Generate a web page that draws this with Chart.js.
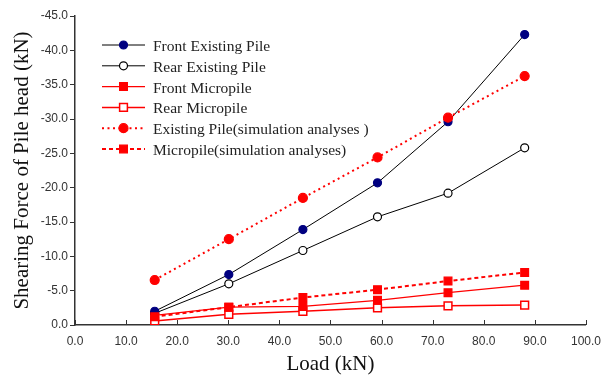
<!DOCTYPE html>
<html>
<head>
<meta charset="utf-8">
<script src="https://cdn.jsdelivr.net/npm/chart.js@4"></script>
<style>
  html, body { margin: 0; padding: 0; background: #fff; }
  #wrap { width: 610px; height: 376px; position: relative; }
</style>
</head>
<body>
<div id="wrap"><canvas id="c"></canvas></div>
<script>
// Load steps (kN) and pile head shearing force (kN)
const loads = [15.6, 30.1, 44.6, 59.2, 73.0, 88.0];

const frontExisting = [-2.0, -7.35, -13.9, -20.7, -29.6, -42.3];
const rearExisting  = [-1.7, -6.0, -10.85, -15.75, -19.2, -25.8];
const frontMicro    = [-1.4, -2.6, -2.7, -3.6, -4.7, -5.8];
const rearMicro     = [-0.6, -1.55, -2.0, -2.5, -2.8, -2.9];
const existingSim   = [-6.55, -12.5, -18.5, -24.4, -30.2, -36.25];
const microSim      = [-1.2, -2.6, -4.0, -5.15, -6.4, -7.65];

const labels = [
  "Front Existing Pile",
  "Rear Existing Pile",
  "Front Micropile",
  "Rear Micropile",
  "Existing Pile(simulation analyses )",
  "Micropile(simulation analyses)",
];

const RED = "#FF0000";
const NAVY = "#000080";

const pts = (ys) => loads.map((x, i) => ({ x, y: ys[i] }));

function ds(label, data, o) {
  return Object.assign({
    label, data: pts(data),
    borderWidth: 1, pointRadius: 4, pointBorderWidth: 1.2,
    pointStyle: "circle", borderDash: [], tension: 0,
  }, o);
}

const datasets = [
  ds(labels[0], frontExisting, { borderColor: "#000", pointBackgroundColor: NAVY, pointBorderColor: NAVY, order: 2 }),
  ds(labels[1], rearExisting, { borderColor: "#000", pointBackgroundColor: "#fff", pointBorderColor: "#000", order: 2 }),
  ds(labels[2], frontMicro, { borderColor: RED, borderWidth: 1.3, pointStyle: "rect", pointRadius: 5.5, pointBackgroundColor: RED, pointBorderColor: RED, order: 2 }),
  ds(labels[3], rearMicro, { borderColor: RED, borderWidth: 1.5, pointStyle: "rect", pointRadius: 5.5, pointBackgroundColor: "#fff", pointBorderColor: RED, pointBorderWidth: 1.5, order: 2 }),
  ds(labels[4], existingSim, { borderColor: RED, borderWidth: 2, borderDash: [2, 3.5], pointRadius: 4.5, pointBackgroundColor: RED, pointBorderColor: RED, order: 0 }),
  ds(labels[5], microSim, { borderColor: RED, borderWidth: 2, borderDash: [4, 3], pointStyle: "rect", pointRadius: 5.5, pointBackgroundColor: RED, pointBorderColor: RED, order: 1 }),
];

// legend drawn on canvas: line + marker + serif text
const lineLegend = {
  id: "lineLegend",
  afterDatasetsDraw(chart) {
    const ctx = chart.ctx;
    const x0 = 102, x1 = 145, tx = 153, y0 = 45, dy = 20.8;
    ctx.save();
    ctx.font = "15.5px 'Liberation Serif'";
    ctx.textBaseline = "middle";
    chart.data.datasets.forEach((d, i) => {
      const y = y0 + i * dy;
      ctx.beginPath();
      ctx.setLineDash(d.borderDash);
      ctx.lineWidth = d.borderWidth;
      ctx.strokeStyle = d.borderColor;
      ctx.moveTo(x0, y);
      ctx.lineTo(x1, y);
      ctx.stroke();
      ctx.setLineDash([]);
      ctx.fillStyle = d.pointBackgroundColor;
      ctx.strokeStyle = d.pointBorderColor;
      ctx.lineWidth = d.pointBorderWidth;
      Chart.helpers.drawPoint(ctx, {
        pointStyle: d.pointStyle, rotation: 0,
        radius: d.pointRadius, borderWidth: d.pointBorderWidth,
      }, (x0 + x1) / 2, y);
      ctx.fillStyle = "#222";
      ctx.fillText(d.label, tx, y + 2);
    });
    ctx.restore();
  },
};

// x-axis tick marks point up into the plot
const inTicks = {
  id: "inTicks",
  afterDraw(chart) {
    const s = chart.scales.x, ctx = chart.ctx;
    ctx.save();
    ctx.strokeStyle = "#333";
    ctx.lineWidth = 1;
    s.ticks.forEach((t) => {
      const px = Math.round(s.getPixelForValue(t.value)) + 0.5;
      ctx.beginPath();
      ctx.moveTo(px, s.top);
      ctx.lineTo(px, s.top - 5);
      ctx.stroke();
    });
    ctx.restore();
  },
};

new Chart(document.getElementById("c"), {
  type: "line",
  data: { datasets },
  plugins: [inTicks, lineLegend],
  options: {
    responsive: true,
    maintainAspectRatio: false,
    animation: false,
    layout: { padding: { top: 16, right: 21, left: 0, bottom: 0 } },
    plugins: { legend: { display: false }, tooltip: { enabled: false } },
    scales: {
      x: {
        type: "linear", min: 0, max: 100,
        ticks: { stepSize: 10, padding: 9, color: "#333", font: { family: "'Liberation Sans'", size: 12 }, maxRotation: 0, callback: (v) => v.toFixed(1) },
        grid: { display: true, drawOnChartArea: false, drawTicks: false },
        border: { display: true, color: "#333", width: 1.5 },
        title: { display: true, text: "Load (kN)", color: "#111", font: { family: "'Liberation Serif'", size: 21, lineHeight: 1 }, padding: { top: 0, bottom: 1 } },
        afterFit: (s) => { s.height = 51; },
      },
      y: {
        type: "linear", min: -45, max: 0, reverse: true,
        ticks: { stepSize: 5, padding: 2, color: "#333", font: { family: "'Liberation Sans'", size: 12 }, callback: (v) => v.toFixed(1) },
        grid: { display: true, drawOnChartArea: false, drawTicks: true, tickLength: 5, color: "#333" },
        border: { display: true, color: "#333", width: 1.5 },
        title: { display: true, text: "Shearing Force of Pile head (kN)", color: "#111", font: { family: "'Liberation Serif'", size: 21, lineHeight: 1.2 }, padding: { top: 10, bottom: 0 } },
        afterFit: (s) => { s.width = 75; },
      },
    },
  },
});
</script>
</body>
</html>
